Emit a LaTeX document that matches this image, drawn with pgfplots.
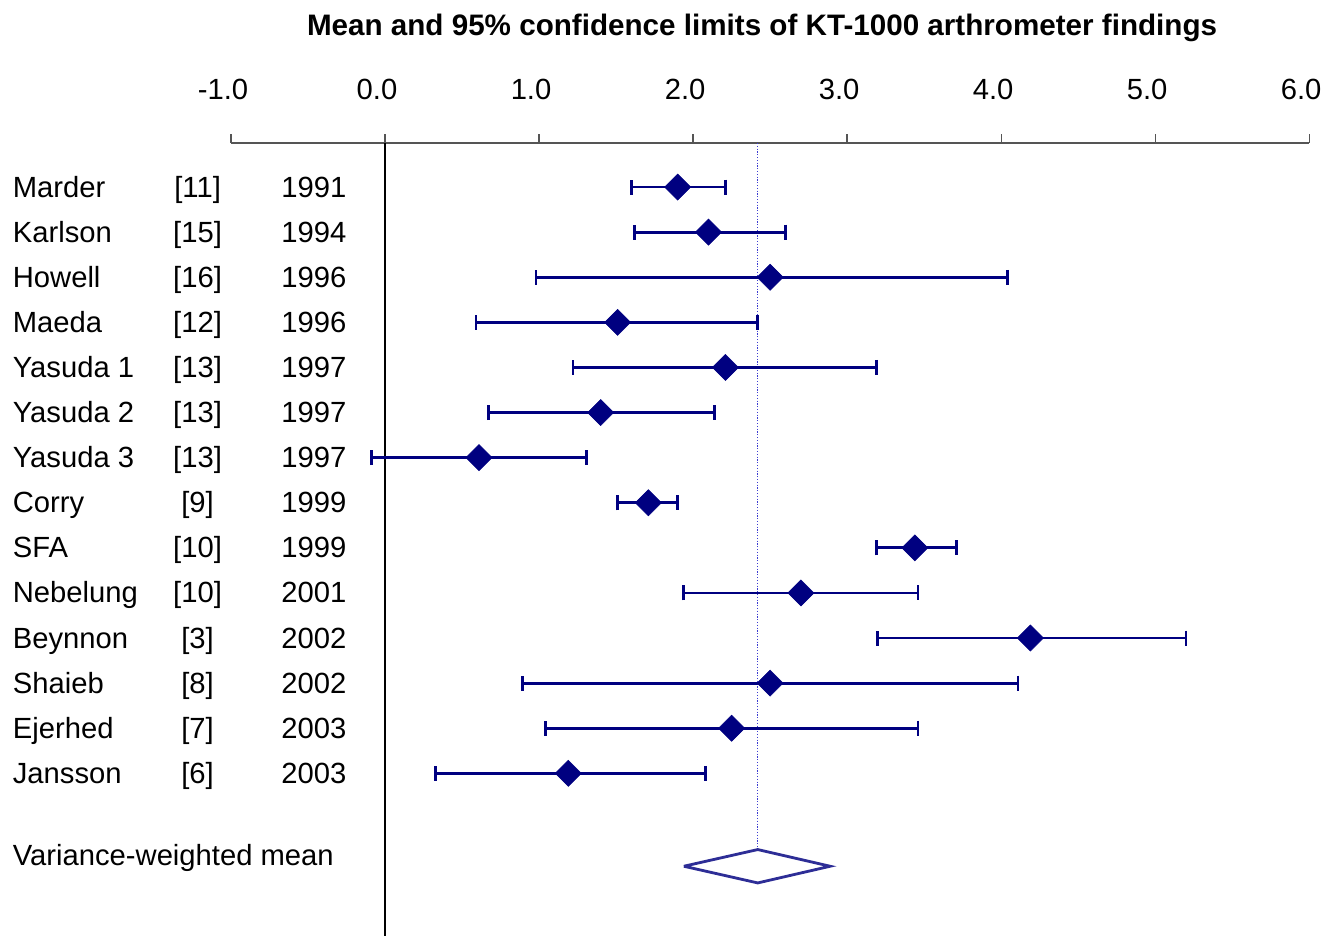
\documentclass[border=0pt]{standalone}
\usepackage{fontspec}
\setmainfont{Liberation Sans}
\usepackage{graphicx}
\usepackage{pgfplots}
\usepackage{pgfplotstable}
\pgfplotsset{compat=1.18}
\definecolor{navyb}{RGB}{0,0,128}
\definecolor{meanb}{RGB}{45,45,150}
\definecolor{dotb}{RGB}{60,60,210}
\definecolor{axgray}{RGB}{85,85,85}

% y = -row, m = mean, em / ep = distance to lower / upper 95% limit
\pgfplotstableread{
y    m     em    ep
-1   1.90  0.30  0.31
-2   2.10  0.48  0.50
-3   2.50  1.52  1.54
-4   1.51  0.92  0.91
-5   2.21  0.99  0.98
-6   1.40  0.73  0.74
-7   0.61  0.70  0.70
-8   1.71  0.20  0.19
-9   3.44  0.25  0.27
-10  2.70  0.76  0.76
-11  4.19  0.99  1.01
-12  2.50  1.61  1.61
-13  2.25  1.21  1.21
-14  1.19  0.86  0.89
}\studies

\newcommand{\lab}{\fontsize{14.6pt}{17pt}\selectfont}
\newcommand{\rowlab}[4]{%
  \node[anchor=base west, inner sep=0pt, font=\lab] at (axis cs:-2.419,{-#1-0.222}) {#2};
  \node[anchor=base, inner sep=0pt, font=\lab] at (axis cs:-1.217,{-#1-0.222}) {#3};
  \node[anchor=base east, inner sep=0pt, font=\lab] at (axis cs:-0.248,{-#1-0.222}) {#4};
}

\begin{document}
\begin{tikzpicture}
\begin{axis}[
  scale only axis,
  width=539pt, height=396.5pt,
  xmin=-1, xmax=6,
  ymin=-17.61, ymax=-0.024,
  axis x line=top,
  axis y line=none,
  axis line style={axgray, line width=0.6pt, -},
  xtick={-1,0,1,2,3,4,5,6},
  xticklabels={-1.0,0.0,1.0,2.0,3.0,4.0,5.0,6.0},
  tick align=outside,
  major tick length=4.5pt,
  tick style={axgray, line width=0.6pt},
  xticklabel style={font=\lab, anchor=base, yshift=17.5pt, xshift=-4pt},
  clip=false,
]
% reference lines
\addplot[black, line width=0.6pt] coordinates {(0,-0.024) (0,-17.61)};
\addplot[dotb, line width=0.7pt, dash pattern=on 0.6pt off 0.8pt] coordinates {(2.42,-0.024) (2.42,-15.69)};

% study estimates with 95% CI
\addplot[navyb, line width=1.4pt, only marks,
  mark=square*, mark size=4.6pt,
  mark options={rotate=45, fill=navyb, draw=navyb, line width=0.3pt},
  error bars/.cd, x dir=both, x explicit,
  error bar style={line width=1.4pt, navyb},
  error mark options={navyb, line width=1.4pt, mark size=3.75pt, rotate=90}]
  table[x=m, y=y, x error plus=ep, x error minus=em] {\studies};

% variance-weighted mean diamond
\addplot[meanb, line width=1.4pt, fill=white] coordinates {(1.94,-16.06) (2.42,-15.69) (2.89,-16.06) (2.42,-16.43) (1.94,-16.06)};

% labels
\rowlab{1}{Marder}{[11]}{1991}
\rowlab{2}{Karlson}{[15]}{1994}
\rowlab{3}{Howell}{[16]}{1996}
\rowlab{4}{Maeda}{[12]}{1996}
\rowlab{5}{Yasuda 1}{[13]}{1997}
\rowlab{6}{Yasuda 2}{[13]}{1997}
\rowlab{7}{Yasuda 3}{[13]}{1997}
\rowlab{8}{Corry}{[9]}{1999}
\rowlab{9}{SFA}{[10]}{1999}
\rowlab{10}{Nebelung}{[10]}{2001}
\rowlab{11}{Beynnon}{[3]}{2002}
\rowlab{12}{Shaieb}{[8]}{2002}
\rowlab{13}{Ejerhed}{[7]}{2003}
\rowlab{14}{Jansson}{[6]}{2003}
\node[anchor=base west, inner sep=0pt, font=\lab] at (axis cs:-2.419,-16.04) {Variance-weighted mean};
\node[anchor=base, inner sep=0pt] at (axis cs:2.448,2.35) {\resizebox{455pt}{\height}{\fontsize{14.8pt}{17pt}\selectfont\bfseries Mean and 95\% confidence limits of KT-1000 arthrometer findings}};

\coordinate (bbA) at (axis cs:-2.5,-17.61);
\coordinate (bbB) at (axis cs:6.09,3.148);
\end{axis}
\pgfresetboundingbox
\path[use as bounding box] (bbA) rectangle (bbB);
\end{tikzpicture}
\end{document}
